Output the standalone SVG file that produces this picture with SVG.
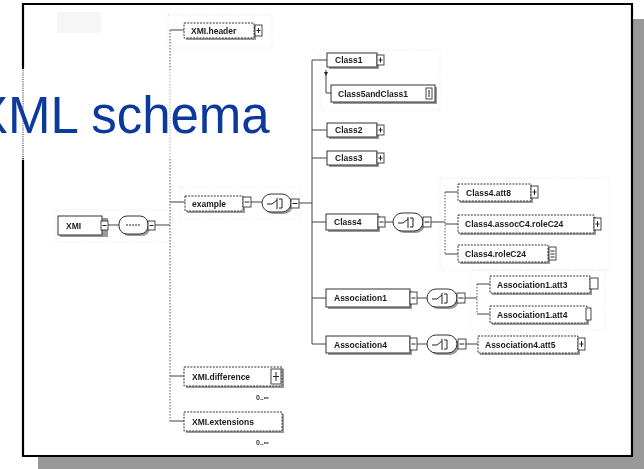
<svg xmlns="http://www.w3.org/2000/svg" width="644" height="469" viewBox="0 0 644 469">
  <defs>
    <filter id="soft" x="-5%" y="-5%" width="110%" height="110%">
      <feGaussianBlur stdDeviation="0.55"/>
    </filter>
    <style>
      .frame { fill: none; stroke: #000; stroke-width: 2.2; }
      .shadow { fill: #999; }
      .title { font-family: "Liberation Sans", Arial, sans-serif; font-size: 51px; fill: #0b3a9c; }
      .box { fill: #fff; stroke: #333; stroke-width: 1; }
      .opt { stroke-dasharray: 2 1.2; }
      .drop { fill: #9a9a9a; }
      .exp { fill: #fff; stroke: #333; stroke-width: 0.9; }
      .sym { stroke: #222; stroke-width: 1; fill: none; }
      .lbl { font-family: "Liberation Sans", Arial, sans-serif; font-size: 8.5px; font-weight: bold; fill: #1a1a1a; }
      .occ { font-family: "Liberation Sans", Arial, sans-serif; font-size: 7px; font-weight: bold; fill: #333; }
      .wire { stroke: #444; stroke-width: 1; fill: none; }
      .dot { stroke: #555; stroke-width: 1; fill: none; stroke-dasharray: 1.5 1.5; }
      .ghost { fill: none; stroke: #e2e2e2; stroke-width: 1; stroke-dasharray: 1 2; }
    </style>
  </defs>

  <rect width="644" height="469" fill="#fff"/>

  <!-- slide frame with drop shadow -->
  <rect class="shadow" x="632" y="19" width="12" height="450"/>
  <rect class="shadow" x="38" y="456" width="606" height="13"/>
  <rect x="23" y="4" width="609" height="452" fill="#fff"/>
  <path class="frame" d="M23 68 V4 H632 V456 H23 V160"/>
  <path d="M23 68 V160" stroke="#000" stroke-width="2" stroke-dasharray="1 1.2"/>

  <!-- faint mark near top left -->
  <rect x="57" y="12" width="44" height="21" fill="#f6f6f6"/>

  <g filter="url(#soft)">
    <!-- faint group outlines -->
    <g id="outlines">
      <rect class="ghost" x="168" y="15" width="104" height="33"/>
      <rect class="ghost" x="180" y="187" width="120" height="32"/>
      <rect class="ghost" x="56" y="210" width="116" height="32"/>
      <rect class="ghost" x="440" y="178" width="170" height="92"/>
      <rect class="ghost" x="470" y="270" width="135" height="60"/>
      <rect class="ghost" x="320" y="50" width="120" height="60"/>
    </g>

    <!-- connectors -->
    <g id="connectors">
      <path class="wire" d="M108 225 H119"/>
      <path class="wire" d="M155 225 H170"/>
      <path class="dot" d="M170 30 V421"/>
      <path class="wire" d="M170 30 H184"/>
      <path class="wire" d="M170 202 H185"/>
      <path class="wire" d="M170 376 H184"/>
      <path class="wire" d="M170 421 H184"/>
      <path class="wire" d="M251 202 H262"/>
      <path class="wire" d="M299 203 H312"/>
      <path class="wire" d="M312 60 V344"/>
      <path class="wire" d="M312 60 H327"/>
      <path class="wire" d="M312 130 H327"/>
      <path class="wire" d="M312 158 H327"/>
      <path class="wire" d="M312 222 H326"/>
      <path class="wire" d="M312 298 H326"/>
      <path class="wire" d="M312 344 H326"/>
      <path class="wire" d="M326 70 V93 H331"/>
      <path d="M324 72 L328 72 L326 76 Z" fill="#222"/>
      <path class="wire" d="M385 222 H393"/>
      <path class="wire" d="M431 222 H445"/>
      <path class="dot" d="M445 192 V254"/>
      <path class="wire" d="M445 192 H458"/>
      <path class="wire" d="M445 224 H458"/>
      <path class="wire" d="M445 254 H458"/>
      <path class="wire" d="M417 298 H427"/>
      <path class="wire" d="M465 298 H477"/>
      <path class="dot" d="M477 284 V314"/>
      <path class="wire" d="M477 284 H490"/>
      <path class="wire" d="M477 314 H490"/>
      <path class="wire" d="M417 344 H427"/>
      <path class="wire" d="M466 344 H478"/>
    </g>

    <g id="n-xmi">
      <rect class="drop" x="60" y="218" width="48" height="19"/>
      <rect class="box" x="58" y="216" width="44" height="19"/>
      <text class="lbl" x="66" y="228.5">XMI</text>
      <rect class="exp" x="101" y="221" width="7" height="9"/>
      <path class="sym" d="M102.5 225.5 H106.5"/>
    </g>

    <g id="n-seq">
      <rect class="drop" x="121" y="218" width="29" height="18" rx="8"/>
      <rect class="box" x="119" y="216" width="29" height="18" rx="8"/>
      <path class="sym" d="M126 225 H141" stroke-dasharray="2 1"/>
      <rect class="exp" x="148" y="221" width="7" height="9"/>
      <path class="sym" d="M149.5 225.5 H153.5"/>
    </g>

    <g id="n-header">
      <rect class="drop" x="186" y="25" width="70" height="15"/>
      <rect class="box opt" x="184" y="23" width="70" height="15"/>
      <text class="lbl" x="191" y="33.5">XMI.header</text>
      <rect class="exp" x="255" y="25" width="7" height="11"/>
      <path class="sym" d="M256.5 30.5 H260.5 M258.5 28 V33"/>
    </g>

    <g id="n-example">
      <rect class="drop" x="187" y="198" width="58" height="15"/>
      <rect class="box opt" x="185" y="196" width="58" height="15"/>
      <text class="lbl" x="192" y="206.5">example</text>
      <rect class="exp" x="243" y="197" width="8" height="10"/>
      <path class="sym" d="M244.5 202 H249.5"/>
    </g>

    <g id="n-choice1">
      <rect class="drop" x="264" y="196" width="29" height="18" rx="9"/>
      <rect class="box" x="262" y="194" width="29" height="18" rx="9"/>
      <path class="sym" d="M267 204 H272 L277 200 M277 198 V209 M279 199 H282 V208 H279"/>
      <rect class="exp" x="291" y="199" width="8" height="9"/>
      <path class="sym" d="M292.5 203.5 H297.5"/>
    </g>

    <g id="n-class1">
      <rect class="drop" x="329" y="55" width="50" height="14"/>
      <rect class="box" x="327" y="53" width="50" height="14"/>
      <text class="lbl" x="335" y="63">Class1</text>
      <rect class="exp" x="377" y="55" width="7" height="10"/>
      <path class="sym" d="M378.5 60 H382.5 M380.5 57.5 V62.5"/>
    </g>

    <g id="n-class5">
      <rect class="drop" x="333" y="87" width="104" height="17"/>
      <rect class="box" x="331" y="85" width="104" height="17"/>
      <text class="lbl" x="338" y="96.5">Class5andClass1</text>
      <rect class="exp" x="426" y="88" width="6" height="11"/>
      <path class="sym" d="M429 90 V97"/>
    </g>

    <g id="n-class2">
      <rect class="drop" x="329" y="125" width="50" height="14"/>
      <rect class="box" x="327" y="123" width="50" height="14"/>
      <text class="lbl" x="335" y="133">Class2</text>
      <rect class="exp" x="377" y="125" width="7" height="10"/>
      <path class="sym" d="M378.5 130 H382.5 M380.5 127.5 V132.5"/>
    </g>

    <g id="n-class3">
      <rect class="drop" x="329" y="153" width="50" height="14"/>
      <rect class="box" x="327" y="151" width="50" height="14"/>
      <text class="lbl" x="335" y="161">Class3</text>
      <rect class="exp" x="377" y="153" width="7" height="10"/>
      <path class="sym" d="M378.5 158 H382.5 M380.5 155.5 V160.5"/>
    </g>

    <g id="n-class4">
      <rect class="drop" x="328" y="216" width="52" height="16"/>
      <rect class="box" x="326" y="214" width="52" height="16"/>
      <text class="lbl" x="334" y="225">Class4</text>
      <rect class="exp" x="378" y="217" width="7" height="10"/>
      <path class="sym" d="M379.5 222 H383.5"/>
    </g>

    <g id="n-choice2">
      <rect class="drop" x="395" y="215" width="30" height="18" rx="9"/>
      <rect class="box" x="393" y="213" width="30" height="18" rx="9"/>
      <path class="sym" d="M398 223 H403 L408 219 M408 217 V228 M410 218 H413 V227 H410"/>
      <rect class="exp" x="423" y="217" width="8" height="10"/>
      <path class="sym" d="M424.5 222 H429.5"/>
    </g>

    <g id="n-c4att">
      <rect class="drop" x="460" y="186" width="73" height="17"/>
      <rect class="box opt" x="458" y="184" width="73" height="17"/>
      <text class="lbl" x="466" y="195.5">Class4.att8</text>
      <rect class="exp" x="531" y="186" width="7" height="12"/>
      <path class="sym" d="M532.5 192 H536.5 M534.5 189.5 V195"/>
    </g>

    <g id="n-c4assoc">
      <rect class="drop" x="460" y="217" width="136" height="18"/>
      <rect class="box opt" x="458" y="215" width="136" height="18"/>
      <text class="lbl" x="465" y="227">Class4.assocC4.roleC24</text>
      <rect class="exp" x="594" y="218" width="7" height="12"/>
      <path class="sym" d="M595.5 224 H599.5 M597.5 221 V227"/>
    </g>

    <g id="n-c4role">
      <rect class="drop" x="460" y="247" width="90" height="17"/>
      <rect class="box opt" x="458" y="245" width="90" height="17"/>
      <text class="lbl" x="465" y="256.5">Class4.roleC24</text>
      <rect class="exp" x="549" y="247" width="7" height="13"/>
      <path class="sym" d="M550.5 251 H554.5 M550.5 254 H554.5 M550.5 257 H554.5"/>
    </g>

    <g id="n-assoc1">
      <rect class="drop" x="328" y="291" width="84" height="18"/>
      <rect class="box" x="326" y="289" width="84" height="18"/>
      <text class="lbl" x="334" y="301">Association1</text>
      <rect class="exp" x="410" y="292" width="7" height="12"/>
      <path class="sym" d="M411.5 298 H415.5"/>
    </g>

    <g id="n-choice3">
      <rect class="drop" x="429" y="291" width="30" height="18" rx="9"/>
      <rect class="box" x="427" y="289" width="30" height="18" rx="9"/>
      <path class="sym" d="M432 299 H437 L442 295 M442 293 V304 M444 294 H447 V303 H444"/>
      <rect class="exp" x="457" y="293" width="8" height="10"/>
      <path class="sym" d="M458.5 298 H463.5"/>
    </g>

    <g id="n-a1att3">
      <rect class="drop" x="492" y="278" width="100" height="17"/>
      <rect class="box opt" x="490" y="276" width="100" height="17"/>
      <text class="lbl" x="497" y="287.5">Association1.att3</text>
      <rect class="exp" x="590" y="278" width="8" height="11" fill="#ccc"/>
    </g>

    <g id="n-a1att4">
      <rect class="drop" x="492" y="308" width="97" height="17"/>
      <rect class="box opt" x="490" y="306" width="97" height="17"/>
      <text class="lbl" x="497" y="317.5">Association1.att4</text>
      <rect class="exp" x="586" y="308" width="5" height="12"/>
    </g>

    <g id="n-assoc4">
      <rect class="drop" x="328" y="338" width="84" height="17"/>
      <rect class="box" x="326" y="336" width="84" height="17"/>
      <text class="lbl" x="334" y="347.5">Association4</text>
      <rect class="exp" x="410" y="338" width="7" height="12"/>
      <path class="sym" d="M411.5 344 H415.5"/>
    </g>

    <g id="n-choice4">
      <rect class="drop" x="429" y="337" width="30" height="18" rx="9"/>
      <rect class="box" x="427" y="335" width="30" height="18" rx="9"/>
      <path class="sym" d="M432 345 H437 L442 341 M442 339 V350 M444 340 H447 V349 H444"/>
      <rect class="exp" x="458" y="339" width="8" height="10"/>
      <path class="sym" d="M459.5 344 H464.5"/>
    </g>

    <g id="n-a4att">
      <rect class="drop" x="480" y="338" width="100" height="17"/>
      <rect class="box opt" x="478" y="336" width="100" height="17"/>
      <text class="lbl" x="485" y="347.5">Association4.att5</text>
      <rect class="exp" x="578" y="338" width="7" height="12"/>
      <path class="sym" d="M579.5 344 H583.5 M581.5 341 V347"/>
    </g>

    <g id="n-difference">
      <rect class="drop" x="186" y="369" width="98" height="19"/>
      <rect class="box opt" x="184" y="367" width="98" height="19"/>
      <text class="lbl" x="192" y="379.5">XMI.difference</text>
      <rect class="exp" x="271" y="369" width="10" height="15"/>
      <path class="sym" d="M273 376.5 H279 M276 372 V381"/>
      <text class="occ" x="256" y="400">0..∞</text>
    </g>

    <g id="n-extensions">
      <rect class="drop" x="186" y="414" width="98" height="19"/>
      <rect class="box opt" x="184" y="412" width="98" height="19"/>
      <text class="lbl" x="192" y="424.5">XMI.extensions</text>
      <text class="occ" x="256" y="445">0..∞</text>
    </g>
  </g>

  <!-- slide title over the diagram -->
  <rect x="0" y="70" width="292" height="88" fill="#fff" fill-opacity="0.55"/>
  <text class="title" x="-26" y="133">XML schema</text>
</svg>
